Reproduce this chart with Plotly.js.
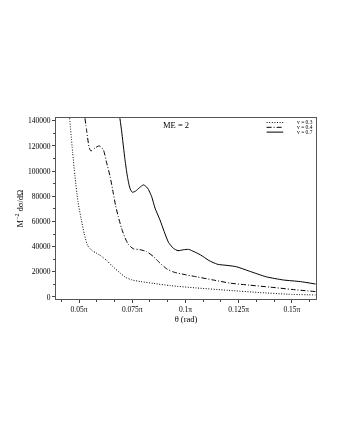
<!DOCTYPE html>
<html>
<head>
<meta charset="utf-8">
<script src="https://cdn.plot.ly/plotly-3.0.1.min.js"></script>
<style>html,body{margin:0;padding:0;background:#fff;}#chart{width:340px;height:440px;filter:grayscale(100%);}</style>
</head>
<body>
<div id="chart"></div>
<script>
// theta in units of pi
var x03 = [0.0456, 0.0470, 0.0481, 0.0495, 0.0510, 0.0525, 0.0540, 0.0560, 0.0580, 0.0600, 0.0630, 0.0660, 0.0690, 0.0720, 0.0750, 0.0790, 0.0850, 0.0930, 0.1050, 0.1200, 0.1350, 0.1480, 0.1610];
var y03 = [142000, 115000, 96000, 76000, 62000, 50000, 41000, 37000, 35000, 33000, 29000, 24000, 19500, 15500, 13500, 12200, 10800, 9000, 7200, 5300, 3500, 2200, 1600];

var x04 = [0.0528, 0.0536, 0.0548, 0.0556, 0.0575, 0.0595, 0.0614, 0.0630, 0.0646, 0.0661, 0.0672, 0.0685, 0.0700, 0.0716, 0.0731, 0.0755, 0.0786, 0.0818, 0.0850, 0.0880, 0.0915, 0.0950, 0.1000, 0.1053, 0.1130, 0.1210, 0.1300, 0.1400, 0.1500, 0.1610];
var y04 = [142000, 132000, 118500, 116000, 118300, 120000, 117000, 106500, 95700, 82500, 72500, 63500, 54500, 47000, 42000, 38300, 37600, 36000, 32000, 27000, 22000, 19500, 17700, 16000, 13500, 11000, 9400, 7800, 6000, 4300];

var x07 = [0.0692, 0.0700, 0.0716, 0.0727, 0.0739, 0.0750, 0.0765, 0.0785, 0.0803, 0.0822, 0.0841, 0.0857, 0.0880, 0.0900, 0.0920, 0.0943, 0.0965, 0.0990, 0.1015, 0.1040, 0.1070, 0.1110, 0.1150, 0.1200, 0.1240, 0.1300, 0.1380, 0.1460, 0.1540, 0.1611];
var y07 = [142000, 132000, 109000, 96000, 86500, 83200, 84000, 87000, 89000, 86500, 79800, 70600, 61300, 52000, 43500, 38700, 36800, 37500, 37800, 36000, 33500, 29000, 26000, 25000, 24000, 20500, 16000, 13500, 12200, 10300];

var seriesNames = ['v = 0.3', 'v = 0.4', 'v = 0.7'];
var xTickVals = [0.05, 0.075, 0.1, 0.125, 0.15];
var xTickText = ['0.05\u03c0', '0.075\u03c0', '0.1\u03c0', '0.125\u03c0', '0.15\u03c0'];
var yTickVals = [0, 20000, 40000, 60000, 80000, 100000, 120000, 140000];
var yTickText = ['0', '20000', '40000', '60000', '80000', '100000', '120000', '140000'];

var FONT = 'Liberation Serif, Times New Roman, serif';
var dashes = ['1px,1.6px', '5px,2px,1px,2px', 'solid'];

var traces = [
  {x: x03, y: y03, name: seriesNames[0], mode: 'lines', line: {color: '#000', width: 1, dash: dashes[0], shape: 'spline', smoothing: 0.6}},
  {x: x04, y: y04, name: seriesNames[1], mode: 'lines', line: {color: '#000', width: 1, dash: dashes[1], shape: 'spline', smoothing: 0.6}},
  {x: x07, y: y07, name: seriesNames[2], mode: 'lines', line: {color: '#000', width: 1, dash: dashes[2], shape: 'spline', smoothing: 0.6}}
];

var legY = [0.975, 0.9485, 0.922];
var annotations = [
  {text: 'ME = 2', xref: 'paper', yref: 'paper', x: 0.4615, y: 0.963, xanchor: 'center', yanchor: 'middle', showarrow: false, font: {family: FONT, size: 8.5, color: '#000'}}
];
var shapes = [];
for (var i = 0; i < 3; i++) {
  annotations.push({text: seriesNames[i], xref: 'paper', yref: 'paper', x: 0.994, y: legY[i], xanchor: 'right', yanchor: 'middle', showarrow: false, font: {family: FONT, size: 5.5, color: '#000'}, borderpad: 0, height: 4.6});
  shapes.push({type: 'line', xref: 'paper', yref: 'paper', x0: 0.81, x1: 0.874, y0: legY[i], y1: legY[i], line: {color: '#000', width: 1, dash: dashes[i]}});
}

var layout = {
  width: 340, height: 440,
  margin: {l: 56, r: 24, t: 118, b: 141, pad: 0},
  paper_bgcolor: '#fff', plot_bgcolor: '#fff',
  showlegend: false,
  font: {family: FONT, color: '#000', size: 7.5},
  xaxis: {
    range: [0.0392, 0.1613],
    tickmode: 'array', tickvals: xTickVals, ticktext: xTickText,
    ticks: 'outside', ticklen: 3, tickcolor: '#444', tickwidth: 1,
    minor: {tickmode: 'linear', tick0: 0.05, dtick: 0.025 / 3, ticks: 'outside', ticklen: 2, tickcolor: '#444'},
    showgrid: false, zeroline: false,
    showline: true, linecolor: '#555', linewidth: 1, mirror: true,
    tickfont: {family: FONT, size: 7.5, color: '#000'},
    title: {text: '\u03b8 (rad)', font: {family: FONT, size: 8.5, color: '#000'}, standoff: 2}
  },
  yaxis: {
    range: [-1600, 142150],
    tickmode: 'array', tickvals: yTickVals, ticktext: yTickText,
    ticks: 'outside', ticklen: 3, tickcolor: '#444', tickwidth: 1,
    minor: {tickmode: 'linear', tick0: 0, dtick: 10000, ticks: 'outside', ticklen: 2, tickcolor: '#444'},
    showgrid: false, zeroline: false,
    showline: true, linecolor: '#555', linewidth: 1, mirror: true,
    tickfont: {family: FONT, size: 7.5, color: '#000'},
    title: {text: 'M<sup>\u22122</sup> d\u03c3/d\u03a9', font: {family: FONT, size: 8.5, color: '#000'}, standoff: 3}
  },
  annotations: annotations,
  shapes: shapes
};

Plotly.newPlot('chart', traces, layout, {displayModeBar: false, staticPlot: true});
</script>
</body>
</html>
